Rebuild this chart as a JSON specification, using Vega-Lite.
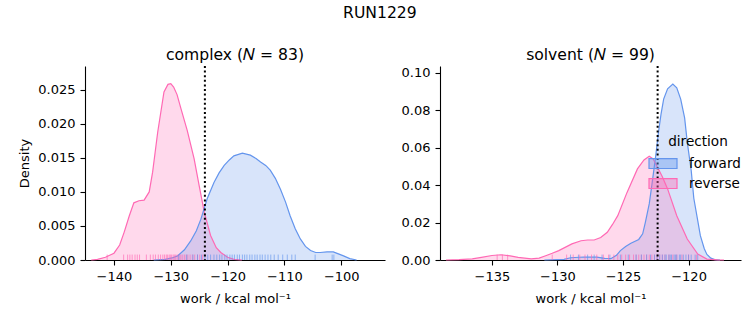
{
  "$schema": "https://vega.github.io/schema/vega-lite/v6.json",
  "background": "white",
  "padding": {"left": 18, "top": 5, "right": 5, "bottom": 5},
  "title": {"text": "RUN1229", "fontSize": 15.6, "font": "DejaVu Sans", "fontWeight": "normal", "anchor": "middle", "offset": 27, "color": "black"},
  "config": {
    "font": "DejaVu Sans",
    "view": {"stroke": null},
    "axis": {"grid": false, "domainColor": "black", "tickColor": "black", "labelColor": "black", "titleColor": "black", "labelFont": "DejaVu Sans", "titleFont": "DejaVu Sans", "labelFontSize": 13, "titleFontSize": 13, "titleFontWeight": "normal", "tickSize": 5, "labelPadding": 5, "domainWidth": 1.1, "tickWidth": 1.1, "labelFlush": false, "labelOverlap": false},
    "title": {"fontSize": 15.6, "fontWeight": "normal", "font": "DejaVu Sans", "color": "black", "offset": 1},
    "legend": {"labelFont": "DejaVu Sans", "titleFont": "DejaVu Sans", "labelFontSize": 13.5, "titleFontSize": 13.6, "titleFontWeight": "normal", "labelColor": "black", "titleColor": "black"}
  },
  "datasets": {
    "kde": [
      {"panel": "complex", "direction": "reverse", "x": -144, "density": 0},
      {"panel": "complex", "direction": "reverse", "x": -142.9, "density": 0.0001},
      {"panel": "complex", "direction": "reverse", "x": -141.5, "density": 0.0004},
      {"panel": "complex", "direction": "reverse", "x": -140, "density": 0.001},
      {"panel": "complex", "direction": "reverse", "x": -139, "density": 0.0022},
      {"panel": "complex", "direction": "reverse", "x": -138.2, "density": 0.0041},
      {"panel": "complex", "direction": "reverse", "x": -137.3, "density": 0.0065},
      {"panel": "complex", "direction": "reverse", "x": -136.5, "density": 0.0084},
      {"panel": "complex", "direction": "reverse", "x": -135.6, "density": 0.0087},
      {"panel": "complex", "direction": "reverse", "x": -134.7, "density": 0.0088},
      {"panel": "complex", "direction": "reverse", "x": -133.8, "density": 0.01},
      {"panel": "complex", "direction": "reverse", "x": -133.2, "density": 0.0129},
      {"panel": "complex", "direction": "reverse", "x": -132.3, "density": 0.0188},
      {"panel": "complex", "direction": "reverse", "x": -131.2, "density": 0.0247},
      {"panel": "complex", "direction": "reverse", "x": -130.5, "density": 0.0258},
      {"panel": "complex", "direction": "reverse", "x": -130.0, "density": 0.0259},
      {"panel": "complex", "direction": "reverse", "x": -129.5, "density": 0.0254},
      {"panel": "complex", "direction": "reverse", "x": -128.9, "density": 0.0243},
      {"panel": "complex", "direction": "reverse", "x": -128.2, "density": 0.0222},
      {"panel": "complex", "direction": "reverse", "x": -127.1, "density": 0.019},
      {"panel": "complex", "direction": "reverse", "x": -125.9, "density": 0.0149},
      {"panel": "complex", "direction": "reverse", "x": -125.0, "density": 0.0109},
      {"panel": "complex", "direction": "reverse", "x": -124.1, "density": 0.007},
      {"panel": "complex", "direction": "reverse", "x": -123.0, "density": 0.0036},
      {"panel": "complex", "direction": "reverse", "x": -122.0, "density": 0.0018},
      {"panel": "complex", "direction": "reverse", "x": -121.2, "density": 0.0011},
      {"panel": "complex", "direction": "reverse", "x": -120.0, "density": 0.0004},
      {"panel": "complex", "direction": "reverse", "x": -118.9, "density": 0.0001},
      {"panel": "complex", "direction": "reverse", "x": -117.5, "density": 0},
      {"panel": "complex", "direction": "forward", "x": -133, "density": 0},
      {"panel": "complex", "direction": "forward", "x": -131, "density": 0.0001},
      {"panel": "complex", "direction": "forward", "x": -129.8, "density": 0.0003},
      {"panel": "complex", "direction": "forward", "x": -128.8, "density": 0.0006},
      {"panel": "complex", "direction": "forward", "x": -127.6, "density": 0.0015},
      {"panel": "complex", "direction": "forward", "x": -126.5, "density": 0.0028},
      {"panel": "complex", "direction": "forward", "x": -125.5, "density": 0.0043},
      {"panel": "complex", "direction": "forward", "x": -124.7, "density": 0.006},
      {"panel": "complex", "direction": "forward", "x": -123.6, "density": 0.009},
      {"panel": "complex", "direction": "forward", "x": -122.4, "density": 0.0114},
      {"panel": "complex", "direction": "forward", "x": -121.5, "density": 0.0128},
      {"panel": "complex", "direction": "forward", "x": -120.6, "density": 0.0139},
      {"panel": "complex", "direction": "forward", "x": -119.7, "density": 0.0147},
      {"panel": "complex", "direction": "forward", "x": -118.9, "density": 0.0153},
      {"panel": "complex", "direction": "forward", "x": -117.4, "density": 0.0157},
      {"panel": "complex", "direction": "forward", "x": -116.0, "density": 0.0154},
      {"panel": "complex", "direction": "forward", "x": -115.0, "density": 0.0149},
      {"panel": "complex", "direction": "forward", "x": -114.2, "density": 0.0144},
      {"panel": "complex", "direction": "forward", "x": -113.3, "density": 0.0139},
      {"panel": "complex", "direction": "forward", "x": -112.5, "density": 0.0132},
      {"panel": "complex", "direction": "forward", "x": -111.6, "density": 0.012},
      {"panel": "complex", "direction": "forward", "x": -110.7, "density": 0.0104},
      {"panel": "complex", "direction": "forward", "x": -109.8, "density": 0.0085},
      {"panel": "complex", "direction": "forward", "x": -109.0, "density": 0.0065},
      {"panel": "complex", "direction": "forward", "x": -108.1, "density": 0.0046},
      {"panel": "complex", "direction": "forward", "x": -107.2, "density": 0.0031},
      {"panel": "complex", "direction": "forward", "x": -106.3, "density": 0.002},
      {"panel": "complex", "direction": "forward", "x": -105.4, "density": 0.0014},
      {"panel": "complex", "direction": "forward", "x": -104.5, "density": 0.0011},
      {"panel": "complex", "direction": "forward", "x": -103.7, "density": 0.0011},
      {"panel": "complex", "direction": "forward", "x": -102.5, "density": 0.0012},
      {"panel": "complex", "direction": "forward", "x": -101.4, "density": 0.0012},
      {"panel": "complex", "direction": "forward", "x": -100.5, "density": 0.0009},
      {"panel": "complex", "direction": "forward", "x": -99.6, "density": 0.0006},
      {"panel": "complex", "direction": "forward", "x": -98.5, "density": 0.0002},
      {"panel": "complex", "direction": "forward", "x": -97.3, "density": 0},
      {"panel": "solvent", "direction": "forward", "x": -131, "density": 0},
      {"panel": "solvent", "direction": "forward", "x": -129.5, "density": 0.0003},
      {"panel": "solvent", "direction": "forward", "x": -129.0, "density": 0.0012},
      {"panel": "solvent", "direction": "forward", "x": -128.0, "density": 0.0016},
      {"panel": "solvent", "direction": "forward", "x": -127.0, "density": 0.0015},
      {"panel": "solvent", "direction": "forward", "x": -126.4, "density": 0.0009},
      {"panel": "solvent", "direction": "forward", "x": -125.9, "density": 0.0008},
      {"panel": "solvent", "direction": "forward", "x": -125.5, "density": 0.0025},
      {"panel": "solvent", "direction": "forward", "x": -125.2, "density": 0.005},
      {"panel": "solvent", "direction": "forward", "x": -124.8, "density": 0.0072},
      {"panel": "solvent", "direction": "forward", "x": -124.4, "density": 0.009},
      {"panel": "solvent", "direction": "forward", "x": -123.8, "density": 0.011},
      {"panel": "solvent", "direction": "forward", "x": -123.5, "density": 0.014},
      {"panel": "solvent", "direction": "forward", "x": -123.3, "density": 0.02},
      {"panel": "solvent", "direction": "forward", "x": -123.0, "density": 0.03},
      {"panel": "solvent", "direction": "forward", "x": -122.8, "density": 0.04},
      {"panel": "solvent", "direction": "forward", "x": -122.5, "density": 0.056},
      {"panel": "solvent", "direction": "forward", "x": -122.3, "density": 0.068},
      {"panel": "solvent", "direction": "forward", "x": -122.1, "density": 0.078},
      {"panel": "solvent", "direction": "forward", "x": -121.9, "density": 0.086},
      {"panel": "solvent", "direction": "forward", "x": -121.6, "density": 0.0915},
      {"panel": "solvent", "direction": "forward", "x": -121.2, "density": 0.094},
      {"panel": "solvent", "direction": "forward", "x": -120.9, "density": 0.092},
      {"panel": "solvent", "direction": "forward", "x": -120.6, "density": 0.086},
      {"panel": "solvent", "direction": "forward", "x": -120.3, "density": 0.076},
      {"panel": "solvent", "direction": "forward", "x": -120.1, "density": 0.063},
      {"panel": "solvent", "direction": "forward", "x": -119.8, "density": 0.048},
      {"panel": "solvent", "direction": "forward", "x": -119.6, "density": 0.033},
      {"panel": "solvent", "direction": "forward", "x": -119.3, "density": 0.021},
      {"panel": "solvent", "direction": "forward", "x": -119.1, "density": 0.013},
      {"panel": "solvent", "direction": "forward", "x": -118.8, "density": 0.006},
      {"panel": "solvent", "direction": "forward", "x": -118.6, "density": 0.003},
      {"panel": "solvent", "direction": "forward", "x": -118.3, "density": 0.001},
      {"panel": "solvent", "direction": "forward", "x": -118.0, "density": 0.0002},
      {"panel": "solvent", "direction": "forward", "x": -117.6, "density": 0},
      {"panel": "solvent", "direction": "reverse", "x": -138.5, "density": 0},
      {"panel": "solvent", "direction": "reverse", "x": -137.5, "density": 0.0002},
      {"panel": "solvent", "direction": "reverse", "x": -136.5, "density": 0.0006},
      {"panel": "solvent", "direction": "reverse", "x": -135.8, "density": 0.0014},
      {"panel": "solvent", "direction": "reverse", "x": -135.0, "density": 0.0024},
      {"panel": "solvent", "direction": "reverse", "x": -134.3, "density": 0.0028},
      {"panel": "solvent", "direction": "reverse", "x": -133.6, "density": 0.0022},
      {"panel": "solvent", "direction": "reverse", "x": -133.0, "density": 0.0014},
      {"panel": "solvent", "direction": "reverse", "x": -132.0, "density": 0.0006},
      {"panel": "solvent", "direction": "reverse", "x": -131.4, "density": 0.001},
      {"panel": "solvent", "direction": "reverse", "x": -130.9, "density": 0.0023},
      {"panel": "solvent", "direction": "reverse", "x": -130.4, "density": 0.0036},
      {"panel": "solvent", "direction": "reverse", "x": -129.9, "density": 0.005},
      {"panel": "solvent", "direction": "reverse", "x": -128.9, "density": 0.0086},
      {"panel": "solvent", "direction": "reverse", "x": -128.2, "density": 0.0103},
      {"panel": "solvent", "direction": "reverse", "x": -127.7, "density": 0.0107},
      {"panel": "solvent", "direction": "reverse", "x": -127.2, "density": 0.0107},
      {"panel": "solvent", "direction": "reverse", "x": -126.7, "density": 0.012},
      {"panel": "solvent", "direction": "reverse", "x": -126.2, "density": 0.0148},
      {"panel": "solvent", "direction": "reverse", "x": -125.8, "density": 0.019},
      {"panel": "solvent", "direction": "reverse", "x": -125.4, "density": 0.0237},
      {"panel": "solvent", "direction": "reverse", "x": -124.7, "density": 0.036},
      {"panel": "solvent", "direction": "reverse", "x": -123.9, "density": 0.0487},
      {"panel": "solvent", "direction": "reverse", "x": -123.4, "density": 0.0535},
      {"panel": "solvent", "direction": "reverse", "x": -123.0, "density": 0.0555},
      {"panel": "solvent", "direction": "reverse", "x": -122.7, "density": 0.054},
      {"panel": "solvent", "direction": "reverse", "x": -122.4, "density": 0.05},
      {"panel": "solvent", "direction": "reverse", "x": -122.0, "density": 0.0445},
      {"panel": "solvent", "direction": "reverse", "x": -121.6, "density": 0.038},
      {"panel": "solvent", "direction": "reverse", "x": -120.9, "density": 0.0237},
      {"panel": "solvent", "direction": "reverse", "x": -120.1, "density": 0.0112},
      {"panel": "solvent", "direction": "reverse", "x": -119.3, "density": 0.0032},
      {"panel": "solvent", "direction": "reverse", "x": -118.6, "density": 0.0005},
      {"panel": "solvent", "direction": "reverse", "x": -117.8, "density": 0.0001},
      {"panel": "solvent", "direction": "reverse", "x": -117.3, "density": 0}
    ],
    "rug": [
      {"panel": "complex", "direction": "reverse", "x": -141.2},
      {"panel": "complex", "direction": "reverse", "x": -138.3},
      {"panel": "complex", "direction": "reverse", "x": -137.6},
      {"panel": "complex", "direction": "reverse", "x": -137.2},
      {"panel": "complex", "direction": "reverse", "x": -136.8},
      {"panel": "complex", "direction": "reverse", "x": -136.3},
      {"panel": "complex", "direction": "reverse", "x": -135.9},
      {"panel": "complex", "direction": "reverse", "x": -135.5},
      {"panel": "complex", "direction": "reverse", "x": -134.3},
      {"panel": "complex", "direction": "reverse", "x": -133.6},
      {"panel": "complex", "direction": "reverse", "x": -133.1},
      {"panel": "complex", "direction": "reverse", "x": -132.7},
      {"panel": "complex", "direction": "reverse", "x": -132.2},
      {"panel": "complex", "direction": "reverse", "x": -131.8},
      {"panel": "complex", "direction": "reverse", "x": -131.4},
      {"panel": "complex", "direction": "reverse", "x": -131.1},
      {"panel": "complex", "direction": "reverse", "x": -130.8},
      {"panel": "complex", "direction": "reverse", "x": -130.6},
      {"panel": "complex", "direction": "reverse", "x": -130.3},
      {"panel": "complex", "direction": "reverse", "x": -130.1},
      {"panel": "complex", "direction": "reverse", "x": -129.9},
      {"panel": "complex", "direction": "reverse", "x": -129.6},
      {"panel": "complex", "direction": "reverse", "x": -129.4},
      {"panel": "complex", "direction": "reverse", "x": -129.2},
      {"panel": "complex", "direction": "reverse", "x": -128.9},
      {"panel": "complex", "direction": "reverse", "x": -128.7},
      {"panel": "complex", "direction": "reverse", "x": -128.4},
      {"panel": "complex", "direction": "reverse", "x": -128.2},
      {"panel": "complex", "direction": "reverse", "x": -127.9},
      {"panel": "complex", "direction": "reverse", "x": -127.6},
      {"panel": "complex", "direction": "reverse", "x": -127.3},
      {"panel": "complex", "direction": "reverse", "x": -127.0},
      {"panel": "complex", "direction": "reverse", "x": -126.6},
      {"panel": "complex", "direction": "reverse", "x": -126.2},
      {"panel": "complex", "direction": "reverse", "x": -125.8},
      {"panel": "complex", "direction": "reverse", "x": -125.3},
      {"panel": "complex", "direction": "reverse", "x": -124.9},
      {"panel": "complex", "direction": "reverse", "x": -124.4},
      {"panel": "complex", "direction": "forward", "x": -128.6},
      {"panel": "complex", "direction": "forward", "x": -127.2},
      {"panel": "complex", "direction": "forward", "x": -126.1},
      {"panel": "complex", "direction": "forward", "x": -125.3},
      {"panel": "complex", "direction": "forward", "x": -124.6},
      {"panel": "complex", "direction": "forward", "x": -124.0},
      {"panel": "complex", "direction": "forward", "x": -123.5},
      {"panel": "complex", "direction": "forward", "x": -123.0},
      {"panel": "complex", "direction": "forward", "x": -122.4},
      {"panel": "complex", "direction": "forward", "x": -121.9},
      {"panel": "complex", "direction": "forward", "x": -121.4},
      {"panel": "complex", "direction": "forward", "x": -121.0},
      {"panel": "complex", "direction": "forward", "x": -120.5},
      {"panel": "complex", "direction": "forward", "x": -120.1},
      {"panel": "complex", "direction": "forward", "x": -119.6},
      {"panel": "complex", "direction": "forward", "x": -119.2},
      {"panel": "complex", "direction": "forward", "x": -118.8},
      {"panel": "complex", "direction": "forward", "x": -118.3},
      {"panel": "complex", "direction": "forward", "x": -117.9},
      {"panel": "complex", "direction": "forward", "x": -117.4},
      {"panel": "complex", "direction": "forward", "x": -117.0},
      {"panel": "complex", "direction": "forward", "x": -116.6},
      {"panel": "complex", "direction": "forward", "x": -116.1},
      {"panel": "complex", "direction": "forward", "x": -115.7},
      {"panel": "complex", "direction": "forward", "x": -115.2},
      {"panel": "complex", "direction": "forward", "x": -114.8},
      {"panel": "complex", "direction": "forward", "x": -114.3},
      {"panel": "complex", "direction": "forward", "x": -113.9},
      {"panel": "complex", "direction": "forward", "x": -113.4},
      {"panel": "complex", "direction": "forward", "x": -112.9},
      {"panel": "complex", "direction": "forward", "x": -112.4},
      {"panel": "complex", "direction": "forward", "x": -111.8},
      {"panel": "complex", "direction": "forward", "x": -111.1},
      {"panel": "complex", "direction": "forward", "x": -110.3},
      {"panel": "complex", "direction": "forward", "x": -109.5},
      {"panel": "complex", "direction": "forward", "x": -108.7},
      {"panel": "complex", "direction": "forward", "x": -108.1},
      {"panel": "complex", "direction": "forward", "x": -104.6},
      {"panel": "complex", "direction": "forward", "x": -101.6},
      {"panel": "complex", "direction": "forward", "x": -101.3},
      {"panel": "solvent", "direction": "reverse", "x": -134.6},
      {"panel": "solvent", "direction": "reverse", "x": -134.2},
      {"panel": "solvent", "direction": "reverse", "x": -133.8},
      {"panel": "solvent", "direction": "reverse", "x": -130.4},
      {"panel": "solvent", "direction": "reverse", "x": -129.3},
      {"panel": "solvent", "direction": "reverse", "x": -128.8},
      {"panel": "solvent", "direction": "reverse", "x": -128.3},
      {"panel": "solvent", "direction": "reverse", "x": -127.9},
      {"panel": "solvent", "direction": "reverse", "x": -127.4},
      {"panel": "solvent", "direction": "reverse", "x": -127.0},
      {"panel": "solvent", "direction": "reverse", "x": -126.5},
      {"panel": "solvent", "direction": "reverse", "x": -126.1},
      {"panel": "solvent", "direction": "reverse", "x": -125.7},
      {"panel": "solvent", "direction": "reverse", "x": -125.4},
      {"panel": "solvent", "direction": "reverse", "x": -125.1},
      {"panel": "solvent", "direction": "reverse", "x": -124.8},
      {"panel": "solvent", "direction": "reverse", "x": -124.5},
      {"panel": "solvent", "direction": "reverse", "x": -124.2},
      {"panel": "solvent", "direction": "reverse", "x": -124.0},
      {"panel": "solvent", "direction": "reverse", "x": -123.8},
      {"panel": "solvent", "direction": "reverse", "x": -123.6},
      {"panel": "solvent", "direction": "reverse", "x": -123.4},
      {"panel": "solvent", "direction": "reverse", "x": -123.2},
      {"panel": "solvent", "direction": "reverse", "x": -123.0},
      {"panel": "solvent", "direction": "reverse", "x": -122.8},
      {"panel": "solvent", "direction": "reverse", "x": -122.6},
      {"panel": "solvent", "direction": "reverse", "x": -122.4},
      {"panel": "solvent", "direction": "reverse", "x": -122.2},
      {"panel": "solvent", "direction": "reverse", "x": -122.0},
      {"panel": "solvent", "direction": "reverse", "x": -121.8},
      {"panel": "solvent", "direction": "reverse", "x": -121.5},
      {"panel": "solvent", "direction": "reverse", "x": -121.2},
      {"panel": "solvent", "direction": "reverse", "x": -120.9},
      {"panel": "solvent", "direction": "reverse", "x": -120.5},
      {"panel": "solvent", "direction": "reverse", "x": -120.0},
      {"panel": "solvent", "direction": "reverse", "x": -119.4},
      {"panel": "solvent", "direction": "forward", "x": -129.0},
      {"panel": "solvent", "direction": "forward", "x": -128.4},
      {"panel": "solvent", "direction": "forward", "x": -127.7},
      {"panel": "solvent", "direction": "forward", "x": -127.2},
      {"panel": "solvent", "direction": "forward", "x": -126.6},
      {"panel": "solvent", "direction": "forward", "x": -126.0},
      {"panel": "solvent", "direction": "forward", "x": -125.2},
      {"panel": "solvent", "direction": "forward", "x": -124.6},
      {"panel": "solvent", "direction": "forward", "x": -124.0},
      {"panel": "solvent", "direction": "forward", "x": -123.6},
      {"panel": "solvent", "direction": "forward", "x": -123.2},
      {"panel": "solvent", "direction": "forward", "x": -122.9},
      {"panel": "solvent", "direction": "forward", "x": -122.6},
      {"panel": "solvent", "direction": "forward", "x": -122.4},
      {"panel": "solvent", "direction": "forward", "x": -122.2},
      {"panel": "solvent", "direction": "forward", "x": -122.0},
      {"panel": "solvent", "direction": "forward", "x": -121.8},
      {"panel": "solvent", "direction": "forward", "x": -121.7},
      {"panel": "solvent", "direction": "forward", "x": -121.5},
      {"panel": "solvent", "direction": "forward", "x": -121.4},
      {"panel": "solvent", "direction": "forward", "x": -121.3},
      {"panel": "solvent", "direction": "forward", "x": -121.1},
      {"panel": "solvent", "direction": "forward", "x": -121.0},
      {"panel": "solvent", "direction": "forward", "x": -120.9},
      {"panel": "solvent", "direction": "forward", "x": -120.7},
      {"panel": "solvent", "direction": "forward", "x": -120.6},
      {"panel": "solvent", "direction": "forward", "x": -120.4},
      {"panel": "solvent", "direction": "forward", "x": -120.2},
      {"panel": "solvent", "direction": "forward", "x": -120.0},
      {"panel": "solvent", "direction": "forward", "x": -119.8},
      {"panel": "solvent", "direction": "forward", "x": -119.5},
      {"panel": "solvent", "direction": "forward", "x": -119.3}
    ],
    "ref": [
      {"panel": "complex", "x": -124.0},
      {"panel": "solvent", "x": -122.36}
    ]
  },
  "spacing": 16,
  "resolve": {"scale": {"color": "independent"}, "legend": {"color": "independent"}},
  "hconcat": [
    {
      "width": 300,
      "height": 194,
      "title": {"text": "complex (𝑁 = 83)"},
      "layer": [
        {
          "data": {"name": "kde"},
          "transform": [{"filter": "datum.panel === 'complex'"}],
          "mark": {"type": "area", "fillOpacity": 0.25, "line": {"strokeWidth": 1.2}},
          "encoding": {
            "x": {"field": "x", "type": "quantitative", "scale": {"domain": [-145.1, -92.3], "nice": false, "zero": false}, "axis": {"values": [-140, -130, -120, -110, -100], "title": "work / kcal mol⁻¹", "titlePadding": 9}},
            "y": {"field": "density", "type": "quantitative", "stack": null, "scale": {"domain": [0, 0.0285], "nice": false}, "axis": {"values": [0, 0.005, 0.01, 0.015, 0.02, 0.025], "format": ".3f", "title": "Density", "titlePadding": 6}},
            "color": {"field": "direction", "type": "nominal", "scale": {"domain": ["forward", "reverse"], "range": ["#6495ED", "#FF69B4"]}, "legend": null},
            "detail": {"field": "direction"}
          }
        },
        {
          "data": {"name": "rug"},
          "transform": [{"filter": "datum.panel === 'complex'"}],
          "mark": {"type": "rule", "strokeWidth": 1, "opacity": 0.65},
          "encoding": {
            "x": {"field": "x", "type": "quantitative", "axis": {"values": [-140, -130, -120, -110, -100], "title": "work / kcal mol⁻¹", "titlePadding": 9}},
            "y": {"datum": 0, "type": "quantitative", "axis": {"values": [0, 0.005, 0.01, 0.015, 0.02, 0.025], "format": ".3f", "title": "Density", "titlePadding": 6}},
            "y2": {"datum": 0.0008},
            "color": {"field": "direction", "type": "nominal", "legend": null}
          }
        },
        {
          "data": {"name": "ref"},
          "transform": [{"filter": "datum.panel === 'complex'"}],
          "mark": {"type": "rule", "color": "black", "strokeWidth": 2, "strokeDash": [2, 2.6]},
          "encoding": {"x": {"field": "x", "type": "quantitative", "axis": {"values": [-140, -130, -120, -110, -100], "title": "work / kcal mol⁻¹", "titlePadding": 9}}}
        }
      ]
    },
    {
      "width": 301,
      "height": 194,
      "title": {"text": "solvent (𝑁 = 99)"},
      "layer": [
        {
          "data": {"name": "kde"},
          "transform": [{"filter": "datum.panel === 'solvent'"}],
          "mark": {"type": "area", "fillOpacity": 0.25, "line": {"strokeWidth": 1.2}},
          "encoding": {
            "x": {"field": "x", "type": "quantitative", "scale": {"domain": [-138.96, -116.0], "nice": false, "zero": false}, "axis": {"values": [-135, -130, -125, -120], "title": "work / kcal mol⁻¹", "titlePadding": 9}},
            "y": {"field": "density", "type": "quantitative", "stack": null, "scale": {"domain": [0, 0.1037], "nice": false}, "axis": {"values": [0, 0.02, 0.04, 0.06, 0.08, 0.1], "format": ".2f", "title": null}},
            "color": {
              "field": "direction",
              "type": "nominal",
              "scale": {"domain": ["forward", "reverse"], "range": ["#6495ED", "#FF69B4"]},
              "legend": {
                "orient": "none",
                "legendX": 215,
                "legendY": 69,
                "title": "direction",
                "titleAnchor": "middle",
                "symbolType": "M-2,-0.7H2V0.7H-2Z",
                "symbolSize": 196,
                "symbolStrokeWidth": 1.2,
                "labelOffset": 18,
                "rowPadding": 4,
                "titlePadding": 7,
                "encode": {"symbols": {"update": {"fillOpacity": {"value": 0.4}, "strokeOpacity": {"value": 1}}}}
              }
            },
            "detail": {"field": "direction"}
          }
        },
        {
          "data": {"name": "rug"},
          "transform": [{"filter": "datum.panel === 'solvent'"}],
          "mark": {"type": "rule", "strokeWidth": 1, "opacity": 0.65},
          "encoding": {
            "x": {"field": "x", "type": "quantitative", "axis": {"values": [-135, -130, -125, -120], "title": "work / kcal mol⁻¹", "titlePadding": 9}},
            "y": {"datum": 0, "type": "quantitative", "axis": {"values": [0, 0.02, 0.04, 0.06, 0.08, 0.1], "format": ".2f", "title": null}},
            "y2": {"datum": 0.0029},
            "color": {"field": "direction", "type": "nominal", "legend": null}
          }
        },
        {
          "data": {"name": "ref"},
          "transform": [{"filter": "datum.panel === 'solvent'"}],
          "mark": {"type": "rule", "color": "black", "strokeWidth": 2, "strokeDash": [2, 2.6]},
          "encoding": {"x": {"field": "x", "type": "quantitative", "axis": {"values": [-135, -130, -125, -120], "title": "work / kcal mol⁻¹", "titlePadding": 9}}}
        }
      ]
    }
  ]
}
